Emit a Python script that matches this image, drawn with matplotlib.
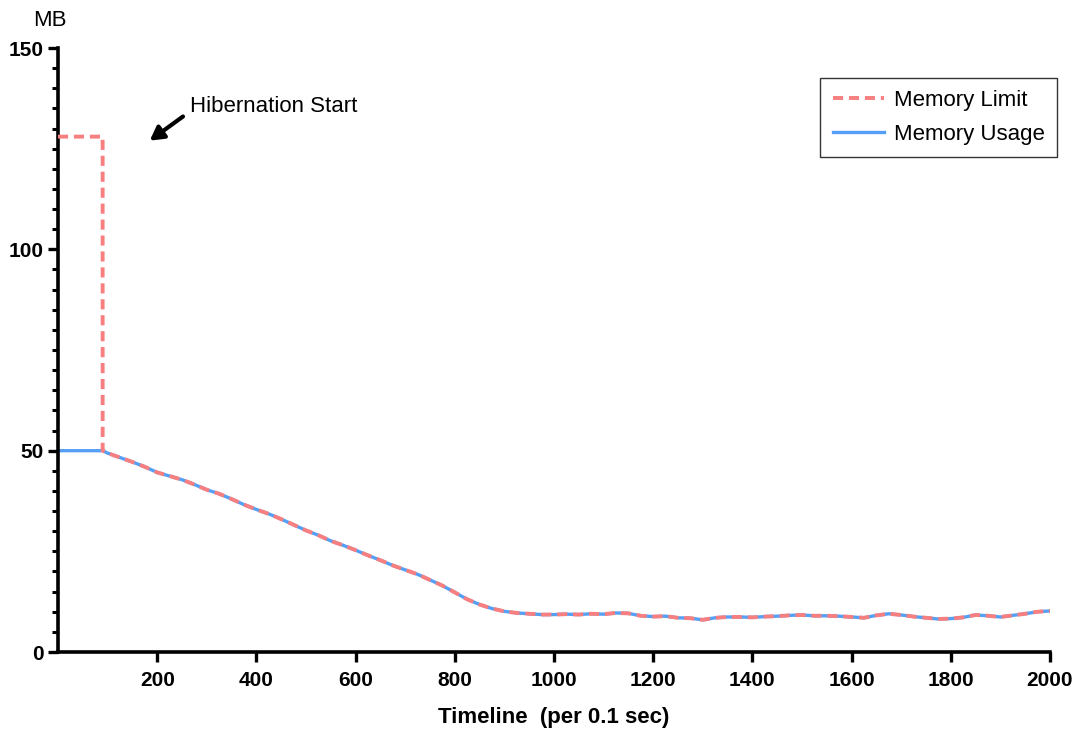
import matplotlib
matplotlib.use("Agg")
import matplotlib.pyplot as plt
from matplotlib.ticker import MultipleLocator

plt.rcParams['font.family'] = ['Liberation Sans', 'DejaVu Sans']

# flat part before hibernation
head_x = [0, 90]
usage_head = [50, 50]
limit_head = [128, 128]

# after hibernation start (limit follows usage)
tail_x = [90, 100, 125, 150, 175, 200, 225, 250, 275, 300, 325, 350, 375, 400,
          425, 450, 475, 500, 525, 550, 575, 600, 625, 650, 675, 700, 725, 750,
          775, 800, 825, 850, 875, 900, 925, 950, 975, 1000, 1025, 1050, 1075,
          1100, 1125, 1150, 1175, 1200, 1225, 1250, 1275, 1300, 1325, 1350, 1375,
          1400, 1425, 1450, 1475, 1500, 1525, 1550, 1575, 1600, 1625, 1650, 1675,
          1700, 1725, 1750, 1775, 1800, 1825, 1850, 1875, 1900, 1925, 1950, 1975,
          2000]
tail_usage = [50, 49.4, 48.3, 47.2, 46.0, 44.6, 43.7, 42.8, 41.6, 40.3, 39.3, 38.0,
              36.6, 35.4, 34.3, 33.0, 31.6, 30.2, 29.0, 27.6, 26.5, 25.3, 24.0, 22.8,
              21.5, 20.4, 19.3, 17.9, 16.5, 14.8, 13.1, 11.8, 10.8, 10.1, 9.7, 9.5,
              9.3, 9.3, 9.4, 9.3, 9.5, 9.4, 9.7, 9.6, 9.0, 8.8, 8.9, 8.5, 8.4, 8.0,
              8.5, 8.7, 8.7, 8.6, 8.8, 8.9, 9.1, 9.2, 9.0, 9.0, 8.9, 8.7, 8.5, 9.1,
              9.5, 9.2, 8.8, 8.5, 8.2, 8.3, 8.6, 9.2, 9.0, 8.7, 9.1, 9.5, 10.0, 10.2]
tail_limit = tail_usage

red = '#F77F80'
blue = '#55A0F6'

fig = plt.figure(figsize=(10.76, 7.29), dpi=100)
ax = fig.add_axes([0.0539, 0.1056, 0.9219, 0.8285])

ax.plot(head_x + tail_x, usage_head + tail_usage, color=blue, lw=2.4,
        label='Memory Usage', zorder=2)
ax.plot(head_x + [90] + tail_x, limit_head + [50] + tail_limit, color=red, lw=2.8,
        ls=(0, (2.6, 1.5)), label='Memory Limit', zorder=3)

ax.set_xlim(0, 2000)
ax.set_ylim(0, 150)
ax.set_xticks(range(200, 2001, 200))
ax.set_yticks([0, 50, 100, 150])
ax.yaxis.set_minor_locator(MultipleLocator(5))

for s in ['top', 'right']:
    ax.spines[s].set_visible(False)
for s in ['left', 'bottom']:
    ax.spines[s].set_linewidth(2.6)
ax.tick_params(which='major', length=7, width=2.4, labelsize=15)
ax.tick_params(axis='x', which='major', pad=7)
ax.tick_params(axis='y', which='major', pad=3)
ax.tick_params(which='minor', length=4, width=2.2)
for lab in ax.get_xticklabels() + ax.get_yticklabels():
    lab.set_fontweight('bold')

ax.set_xlabel('Timeline  (per 0.1 sec)', fontsize=16, fontweight='bold', labelpad=12)
fig.text(50 / 1076, 1 - 20 / 729, 'MB', fontsize=16, ha='center', va='center')

ax.text(266, 135.6, 'Hibernation Start', fontsize=16, va='center', ha='left')
ax.annotate('', xy=(185, 127), xytext=(252, 133),
            arrowprops=dict(arrowstyle='-|>,head_length=0.8,head_width=0.45',
                            color='black', lw=3, shrinkA=0, shrinkB=0))

h, l = ax.get_legend_handles_labels()
leg = ax.legend(h[::-1], l[::-1], loc='upper right', bbox_to_anchor=(1.007, 0.951),
                borderaxespad=0, fontsize=16, frameon=True, fancybox=False,
                handlelength=2.3, handletextpad=0.45, borderpad=0.55,
                labelspacing=0.6)
leg.get_frame().set_edgecolor('black')
leg.get_frame().set_linewidth(1.0)

fig.savefig('out.png', dpi=100)
